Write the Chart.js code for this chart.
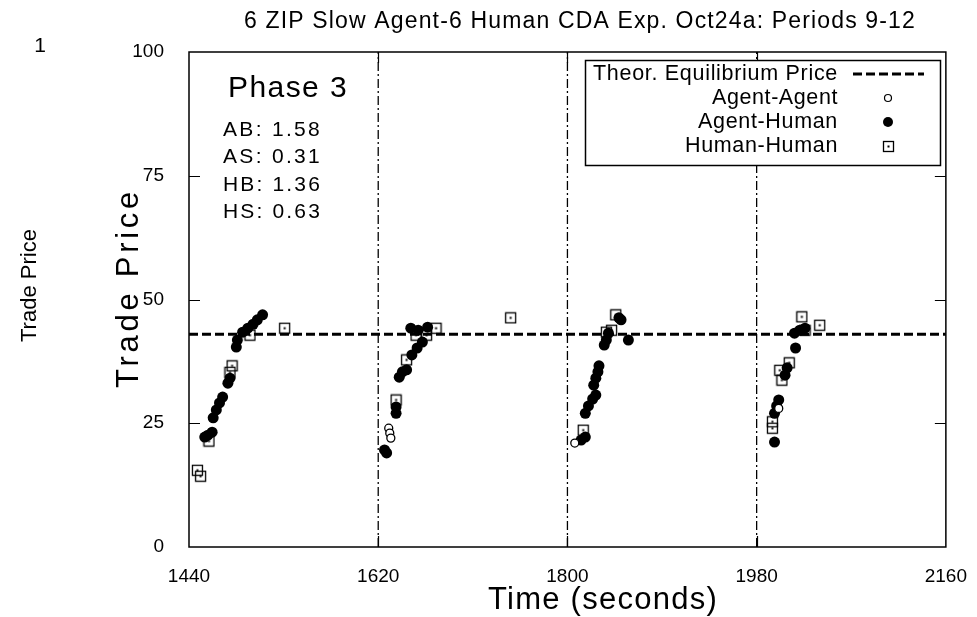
<!DOCTYPE html>
<html>
<head>
<meta charset="utf-8">
<script src="https://cdn.jsdelivr.net/npm/chart.js@4.4.1/dist/chart.umd.min.js"></script>
<style>
  html, body { margin: 0; padding: 0; background: #fff; }
  #wrap { width: 977px; height: 617px; }
</style>
</head>
<body>
<div id="wrap"><canvas id="tradeChart" width="977" height="617"></canvas></div>
<script>
// values (time in seconds, price)
const aaTimes  = [1630, 1631, 1632, 1807, 2001];
const aaPrices = [24, 23, 22, 21, 28];

const ahTimes  = [1455, 1458, 1462, 1463, 1466, 1469, 1472, 1477, 1479, 1485, 1486, 1491, 1496, 1501, 1505, 1510,
                  1626, 1628, 1637, 1637, 1640, 1643, 1647, 1652, 1657, 1662, 1651, 1658, 1667,
                  1813, 1817, 1817, 1820, 1824, 1827, 1825, 1827, 1829, 1830, 1835, 1837, 1839, 1851, 1849, 1858,
                  1997, 1997, 1999, 2001, 2007, 2009, 2017, 2016, 2021, 2026];
const ahPrices = [22.2, 22.6, 23.2, 26.1, 27.7, 29.1, 30.3, 33.1, 34.1, 40.4, 41.8, 43.4, 44.2, 45, 45.9, 46.9,
                  19.6, 19, 27, 28.3, 34.3, 35.4, 35.8, 38.8, 40.2, 41.4, 44.2, 43.8, 44.4,
                  21.6, 22.2, 27, 28.5, 29.9, 30.7, 32.7, 34.1, 35.4, 36.6, 40.8, 41.8, 43.2, 45.9, 46.3, 41.8,
                  21.2, 27, 28.5, 29.7, 34.7, 36.2, 40.2, 43.2, 43.8, 44.2];

const hhTimes  = [1448, 1451, 1459, 1479, 1481, 1498, 1531,
                  1637, 1647, 1656, 1666, 1675, 1746,
                  1815, 1837, 1842, 1846,
                  1995, 1995, 2004, 2002, 2011, 2023, 2026, 2040];
const hhPrices = [15.5, 14.3, 21.4, 35.3, 36.6, 42.8, 44.2,
                  29.7, 37.8, 42.8, 42.8, 44.2, 46.3,
                  23.6, 43.4, 43.8, 46.9,
                  25.3, 24, 33.7, 35.7, 37.2, 46.5, 43.8, 44.8];

const eqPrice = 43;
const periodStarts = [1620, 1800, 1980];
const xTicks = [1440, 1620, 1800, 1980, 2160];
const yTicks = [0, 25, 50, 75, 100];

const phaseLabel = 'Phase 3';
const statNames  = ['AB', 'AS', 'HB', 'HS'];
const statValues = ['1.58', '0.31', '1.36', '0.63'];
const legendLabels = ['Theor. Equilibrium Price', 'Agent-Agent', 'Agent-Human', 'Human-Human'];

const FONT = '"Liberation Sans", Arial, sans-serif';

function pairs(xs, ys) {
    return xs.map((x, i) => ({ x: x, y: ys[i] }));
}

// draw text spread out to a given width (the original uses a wide, thin font)
function fitText(ctx, text, x, y, size, width, align) {
    ctx.font = size + 'px ' + FONT;
    ctx.letterSpacing = '0px';
    const w = ctx.measureText(text).width;
    const sp = Math.max(0, (width - w) / text.length);
    ctx.letterSpacing = sp + 'px';
    ctx.textAlign = 'left';
    let left = x;
    if (align === 'center') left = x - width / 2;
    if (align === 'right') left = x - width;
    ctx.fillText(text, left, y);
    ctx.letterSpacing = '0px';
}

// square marker with a dot in the middle
const squareMark = document.createElement('canvas');
squareMark.width = 13;
squareMark.height = 13;
(function () {
    const c = squareMark.getContext('2d');
    c.strokeStyle = '#000';
    c.lineWidth = 1.3;
    c.strokeRect(1.5, 1.5, 10, 10);
    c.fillStyle = '#000';
    c.fillRect(5.5, 5.5, 2, 2);
})();

const datasets = [
    {
        label: 'Agent-Agent',
        data: pairs(aaTimes, aaPrices),
        pointStyle: 'circle',
        pointRadius: 4,
        backgroundColor: '#fff',
        borderColor: '#000',
        borderWidth: 1.3,
        showLine: false
    },
    {
        label: 'Human-Human',
        data: pairs(hhTimes, hhPrices),
        pointStyle: squareMark,
        pointRadius: 6,
        showLine: false
    },
    {
        label: 'Agent-Human',
        data: pairs(ahTimes, ahPrices),
        pointStyle: 'circle',
        pointRadius: 5.5,
        backgroundColor: '#000',
        borderColor: '#000',
        borderWidth: 0,
        showLine: false
    },
    {
        label: 'Theor. Equilibrium Price',
        data: [{ x: xTicks[0], y: eqPrice }, { x: xTicks[xTicks.length - 1], y: eqPrice }],
        showLine: true,
        borderColor: '#000',
        borderWidth: 3,
        borderDash: [9, 4],
        pointRadius: 0
    }
];

periodStarts.forEach(t => {
    datasets.push({
        label: 'period ' + t,
        data: [{ x: t, y: yTicks[0] }, { x: t, y: yTicks[yTicks.length - 1] }],
        showLine: true,
        borderColor: '#000',
        borderWidth: 1.3,
        borderDash: [9, 3, 2, 3],
        pointRadius: 0
    });
});

// frame, inner ticks, legend box, notes and axis titles
const decor = {
    id: 'decor',
    afterDraw(chart) {
        const ctx = chart.ctx;
        const a = chart.chartArea;
        const xs = chart.scales.x;
        const ys = chart.scales.y;
        ctx.save();
        ctx.strokeStyle = '#000';
        ctx.fillStyle = '#000';
        ctx.lineWidth = 1.5;
        ctx.setLineDash([]);
        ctx.strokeRect(a.left, a.top, a.right - a.left, a.bottom - a.top);

        ctx.lineWidth = 1.2;
        yTicks.slice(1, -1).forEach(v => {
            const py = Math.round(ys.getPixelForValue(v)) + 0.5;
            ctx.beginPath();
            ctx.moveTo(a.left, py); ctx.lineTo(a.left + 11, py);
            ctx.moveTo(a.right, py); ctx.lineTo(a.right - 11, py);
            ctx.stroke();
        });
        xTicks.slice(1, -1).forEach(v => {
            const px = Math.round(xs.getPixelForValue(v)) + 0.5;
            ctx.beginPath();
            ctx.moveTo(px, a.bottom); ctx.lineTo(px, a.bottom - 11);
            ctx.moveTo(px, a.top); ctx.lineTo(px, a.top + 11);
            ctx.stroke();
        });

        ctx.textBaseline = 'middle';

        // title
        fitText(ctx, '6 ZIP Slow Agent-6 Human CDA Exp. Oct24a: Periods 9-12', 580, 22, 23, 672, 'center');

        // axis titles
        fitText(ctx, 'Time (seconds)', 603, 600, 31, 230, 'center');
        ctx.save();
        ctx.translate(129, 288);
        ctx.rotate(-Math.PI / 2);
        fitText(ctx, 'Trade Price', 0, 0, 31, 200, 'center');
        ctx.restore();

        // stray marks at the far left of the original
        ctx.font = '21px ' + FONT;
        ctx.textAlign = 'center';
        ctx.fillText('1', 40, 46);
        ctx.save();
        ctx.translate(30, 290);
        ctx.rotate(-Math.PI / 2);
        fitText(ctx, 'Trade Price', 0, 0, 22, 104, 'center');
        ctx.restore();

        // phase notes
        fitText(ctx, phaseLabel, 288, 89, 30, 120, 'center');
        statNames.forEach((n, i) => {
            fitText(ctx, n + ': ' + statValues[i], 223, 130 + i * 27.5, 21, 99, 'left');
        });

        // legend (white box over the plot)
        ctx.fillStyle = '#fff';
        ctx.fillRect(585.5, 60.5, 355, 105);
        ctx.fillStyle = '#000';
        ctx.lineWidth = 1.5;
        ctx.strokeRect(585.5, 60.5, 355, 105);
        const legendWidths = [245, 126, 140, 153];
        legendLabels.forEach((t, i) => fitText(ctx, t, 838, 74 + i * 24, 21.5, legendWidths[i], 'right'));
        ctx.lineWidth = 3;
        ctx.setLineDash([9, 4]);
        ctx.beginPath();
        ctx.moveTo(853, 74); ctx.lineTo(924, 74);
        ctx.stroke();
        ctx.setLineDash([]);
        ctx.lineWidth = 1.2;
        ctx.beginPath();
        ctx.arc(888, 98, 3.5, 0, Math.PI * 2);
        ctx.stroke();
        ctx.beginPath();
        ctx.arc(888, 122, 5, 0, Math.PI * 2);
        ctx.fill();
        ctx.drawImage(squareMark, 882, 140);
        ctx.restore();
    }
};

new Chart(document.getElementById('tradeChart'), {
    type: 'scatter',
    data: { datasets: datasets },
    options: {
        responsive: false,
        animation: false,
        layout: { padding: { top: 52, right: 22, left: 0, bottom: 0 } },
        plugins: {
            legend: { display: false },
            tooltip: { enabled: false },
            title: { display: false }
        },
        scales: {
            x: {
                type: 'linear',
                min: xTicks[0],
                max: xTicks[xTicks.length - 1],
                afterBuildTicks: s => { s.ticks = xTicks.map(v => ({ value: v })); },
                afterFit: s => { s.height = 70; },
                grid: { display: false },
                border: { display: false },
                ticks: {
                    color: '#000',
                    font: { family: FONT, size: 19 },
                    padding: 10,
                    maxRotation: 0,
                    callback: v => String(v)
                }
            },
            y: {
                min: yTicks[0],
                max: yTicks[yTicks.length - 1],
                afterBuildTicks: s => { s.ticks = yTicks.map(v => ({ value: v })); },
                afterFit: s => { s.width = 189; },
                grid: { display: false },
                border: { display: false },
                ticks: { color: '#000', font: { family: FONT, size: 19 }, padding: 17, callback: v => String(v) }
            }
        }
    },
    plugins: [decor]
});
</script>
</body>
</html>
